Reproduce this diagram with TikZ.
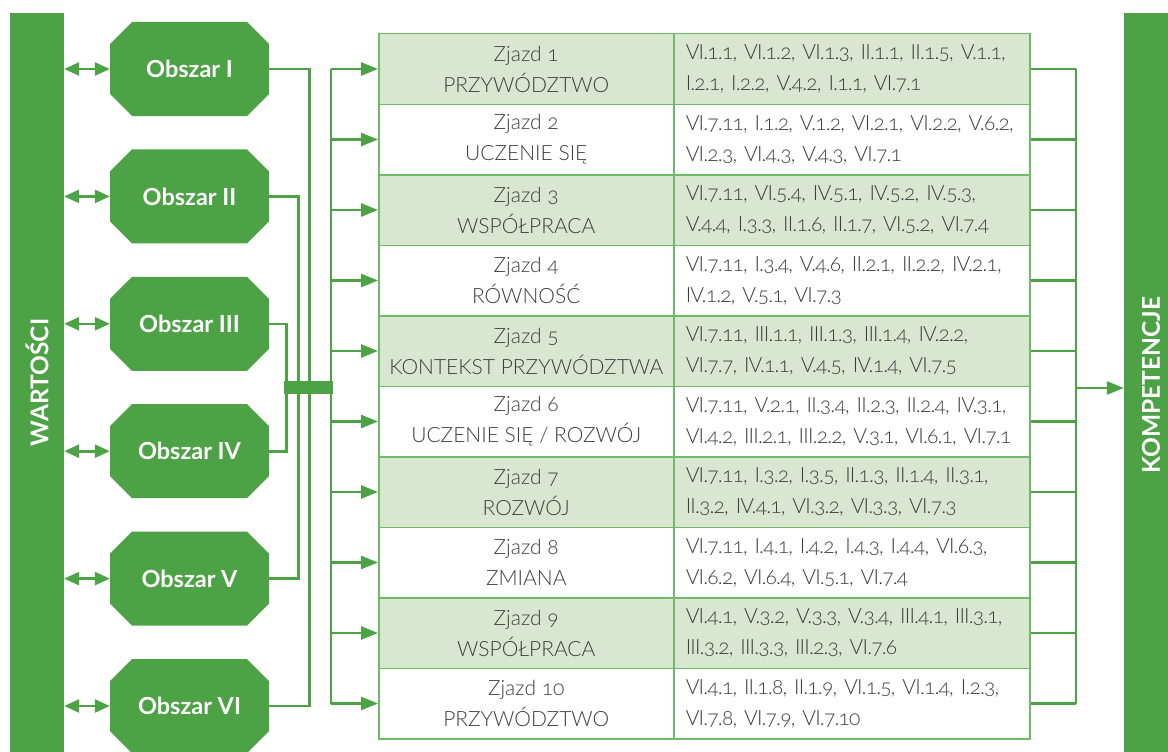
\documentclass[tikz,border=0pt]{standalone}
\usepackage{fontspec}
\setmainfont{Lato}
\newfontfamily\lightfont{Lato Light}[Numbers=OldStyle]
\usetikzlibrary{arrows.meta,calc}
\definecolor{wgreen}{HTML}{4CA244}
\definecolor{lgreen}{HTML}{D9E7D0}
\definecolor{bgreen}{HTML}{6DBB69}
\definecolor{tgray}{HTML}{3E3E3E}
\tikzset{
  conn/.style={draw=wgreen, line width=2.6pt},
  arr/.style={conn, -{Triangle[length=17pt,width=13pt]}},
  darr/.style={conn, {Triangle[length=15pt,width=13pt]}-{Triangle[length=15pt,width=13pt]}},
  vbar/.style={fill=wgreen, rotate=90, inner sep=0, minimum height=54, minimum width=739,
     text=white, font=\bfseries\fontsize{24.5}{28}\selectfont},
  obox/.style={rectangle, minimum width=159, minimum height=94, inner sep=0,
     text=white, font=\bfseries\fontsize{23.5}{27}\selectfont,
     path picture={\fill[wgreen]
       ([xshift=22pt]path picture bounding box.north west) --
       ([xshift=-22pt]path picture bounding box.north east) --
       ([yshift=-22pt]path picture bounding box.north east) --
       ([yshift=22pt]path picture bounding box.south east) --
       ([xshift=-22pt]path picture bounding box.south east) --
       ([xshift=22pt]path picture bounding box.south west) --
       ([yshift=22pt]path picture bounding box.south west) --
       ([yshift=-22pt]path picture bounding box.north west) -- cycle;}},
  zcell/.style={draw=bgreen, line width=1.5pt, anchor=north west, minimum width=295,
     minimum height=70.5, inner sep=0, align=center, text=tgray,
     font=\lightfont\fontsize{21}{31}\selectfont},
  kcell/.style={draw=bgreen, line width=1.5pt, anchor=north west, minimum width=356,
     minimum height=70.5, inner sep=0, text width=332, align=left, text=tgray,
     font=\lightfont\fontsize{21}{31}\selectfont\addfontfeature{LetterSpace=-4}},
}
\newcommand\zrow[4]{%
  \node[zcell,fill=#2] (z#1) at (378,{33+70.5*(#1-1)}) {Zjazd #1\\#3};
  \node[kcell,fill=#2] (k#1) at (673,{33+70.5*(#1-1)}) {#4};
  \draw[arr] (z#1.west -| dl) -- (z#1.west);
  \draw[conn] (k#1.east) -- (k#1.east -| dr);
}
\begin{document}
\begin{tikzpicture}[x=1pt,y=-1pt]
\useasboundingbox (0,0) rectangle (1168,752);
\fill[white] (0,0) rectangle (1168,752);
\coordinate (dl) at (331,387.5);
\coordinate (dr) at (1076,388);
% side bars
\node[vbar, minimum height=54] (wart) at (37,382.5) {WARTOŚCI};
\node[vbar, minimum height=44] (komp) at (1146,382.5) {};
\node[rotate=90, text=white, font=\bfseries\fontsize{24.5}{28}\selectfont, inner sep=0] (kt) at (1151,385) {KOMPETENCJE};
% octagons
\foreach \i/\t in {1/I,2/II,3/III,4/IV,5/V,6/VI}{
  \node[obox] (o\i) at (189.5,{69+127.4*(\i-1)}) {Obszar \t};
  \draw[darr] (o\i.west -| wart.south) -- (o\i.west);
}
% connectors from areas to bus
\draw[conn] (o1.east) -- ++(40,0) |- (o6.east);
\draw[conn] (o2.east) -- ++(29,0) |- (o5.east);
\draw[conn] (o3.east) -- ++(17,0) |- (o4.east);
% table rows
\zrow{1}{lgreen}{PRZYWÓDZTWO}{VI.1.1, VI.1.2, VI.1.3, II.1.1, II.1.5, V.1.1,\\I.2.1, I.2.2, V.4.2, I.1.1, VI.7.1}
\zrow{2}{white}{UCZENIE SIĘ}{VI.7.11, I.1.2, V.1.2, VI.2.1, VI.2.2, V.6.2,\\VI.2.3, VI.4.3, V.4.3, VI.7.1}
\zrow{3}{lgreen}{WSPÓŁPRACA}{VI.7.11, VI.5.4, IV.5.1, IV.5.2, IV.5.3,\\V.4.4, I.3.3, II.1.6, II.1.7, VI.5.2, VI.7.4}
\zrow{4}{white}{RÓWNOŚĆ}{VI.7.11, I.3.4, V.4.6, II.2.1, II.2.2, IV.2.1,\\IV.1.2, V.5.1, VI.7.3}
\zrow{5}{lgreen}{KONTEKST PRZYWÓDZTWA}{VI.7.11, III.1.1, III.1.3, III.1.4, IV.2.2,\\VI.7.7, IV.1.1, V.4.5, IV.1.4, VI.7.5}
\zrow{6}{white}{UCZENIE SIĘ / ROZWÓJ}{VI.7.11, V.2.1, II.3.4, II.2.3, II.2.4, IV.3.1,\\VI.4.2, III.2.1, III.2.2, V.3.1, VI.6.1, VI.7.1}
\zrow{7}{lgreen}{ROZWÓJ}{VI.7.11, I.3.2, I.3.5, II.1.3, II.1.4, II.3.1,\\II.3.2, IV.4.1, VI.3.2, VI.3.3, VI.7.3}
\zrow{8}{white}{ZMIANA}{VI.7.11, I.4.1, I.4.2, I.4.3, I.4.4, VI.6.3,\\VI.6.2, VI.6.4, VI.5.1, VI.7.4}
\zrow{9}{lgreen}{WSPÓŁPRACA}{VI.4.1, V.3.2, V.3.3, V.3.4, III.4.1, III.3.1,\\III.3.2, III.3.3, III.2.3, VI.7.6}
\zrow{10}{white}{PRZYWÓDZTWO}{VI.4.1, II.1.8, II.1.9, VI.1.5, VI.1.4, I.2.3,\\VI.7.8, VI.7.9, VI.7.10}
% distribution lines
\draw[conn] (z1.west -| dl) -- (z10.west -| dl);
\draw[conn] (k1.east -| dr) -- (k10.east -| dr);
\draw[arr] (dr) -- (dr -| komp.north);
% bus bar
\node[fill=wgreen, minimum width=49, minimum height=13, inner sep=0] (bus) at (308.5,387.5) {};
\end{tikzpicture}
\end{document}
